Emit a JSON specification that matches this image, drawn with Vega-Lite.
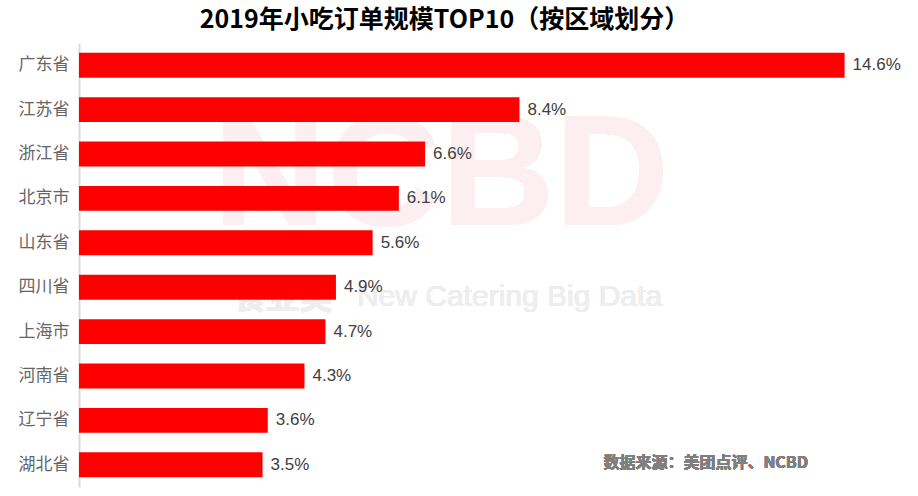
{
  "$schema": "https://vega.github.io/schema/vega-lite/v6.json",
  "width": 839,
  "height": 444,
  "autosize": "none",
  "padding": {"left": 79, "top": 43, "right": 0, "bottom": 9},
  "background": "white",
  "config": {"view": {"stroke": null}},
  "title": {
    "text": "2019年小吃订单规模TOP10（按区域划分）",
    "font": "Noto Sans CJK SC",
    "fontSize": 25,
    "fontWeight": "bold",
    "color": "#000000",
    "anchor": "middle",
    "frame": "group",
    "dx": -54,
    "offset": 10
  },
  "data": {
    "values": [
      {"region": "广东省", "value": 14.6, "label": "14.6%"},
      {"region": "江苏省", "value": 8.4, "label": "8.4%"},
      {"region": "浙江省", "value": 6.6, "label": "6.6%"},
      {"region": "北京市", "value": 6.1, "label": "6.1%"},
      {"region": "山东省", "value": 5.6, "label": "5.6%"},
      {"region": "四川省", "value": 4.9, "label": "4.9%"},
      {"region": "上海市", "value": 4.7, "label": "4.7%"},
      {"region": "河南省", "value": 4.3, "label": "4.3%"},
      {"region": "辽宁省", "value": 3.6, "label": "3.6%"},
      {"region": "湖北省", "value": 3.5, "label": "3.5%"}
    ]
  },
  "encoding": {
    "y": {
      "field": "region",
      "type": "nominal",
      "sort": null,
      "scale": {"domain": ["广东省", "江苏省", "浙江省", "北京市", "山东省", "四川省", "上海市", "河南省", "辽宁省", "湖北省"], "paddingInner": 0.44, "paddingOuter": 0.22},
      "axis": {
        "title": null,
        "ticks": false,
        "domainColor": "#d9d9d9",
        "domainWidth": 2,
        "labelFont": "Noto Sans CJK SC",
        "labelFontSize": 17,
        "labelColor": "#666666",
        "labelPadding": 10
      }
    },
    "x": {
      "field": "value",
      "type": "quantitative",
      "scale": {"domain": [0, 16], "nice": false},
      "axis": null
    }
  },
  "layer": [
    {
      "mark": {"type": "text", "font": "Liberation Sans", "fontWeight": "bold", "fontSize": 158, "color": "#fdeef1", "align": "center", "baseline": "middle", "dy": -20},
      "encoding": {
        "x": {"datum": 6.9},
        "y": {"datum": "北京市"},
        "text": {"value": "NCBD"}
      }
    },
    {
      "mark": {"type": "text", "font": "Noto Sans CJK SC", "fontWeight": "bold", "fontSize": 33, "color": "#eeeeee", "align": "left", "baseline": "middle", "dy": 12},
      "encoding": {
        "x": {"datum": 2.94},
        "y": {"datum": "四川省"},
        "text": {"value": "食亚美"}
      }
    },
    {
      "mark": {"type": "text", "font": "Liberation Sans", "fontSize": 30, "color": "#eeeeee", "align": "left", "baseline": "middle", "dy": 10},
      "encoding": {
        "x": {"datum": 5.3},
        "y": {"datum": "四川省"},
        "text": {"value": "New Catering Big Data"}
      }
    },
    {
      "mark": {"type": "bar", "color": "#ff0000"}
    },
    {
      "mark": {"type": "text", "align": "left", "baseline": "middle", "dx": 8, "font": "Liberation Sans", "fontSize": 17, "color": "#404040"},
      "encoding": {"text": {"field": "label"}}
    },
    {
      "mark": {"type": "text", "font": "Noto Sans CJK SC", "fontWeight": "bold", "fontSize": 16, "color": "#7f7f7f", "align": "left", "baseline": "middle", "dy": -2},
      "encoding": {
        "x": {"datum": 10.0},
        "y": {"datum": "湖北省"},
        "text": {"value": "数据来源：美团点评、NCBD"}
      }
    }
  ]
}
